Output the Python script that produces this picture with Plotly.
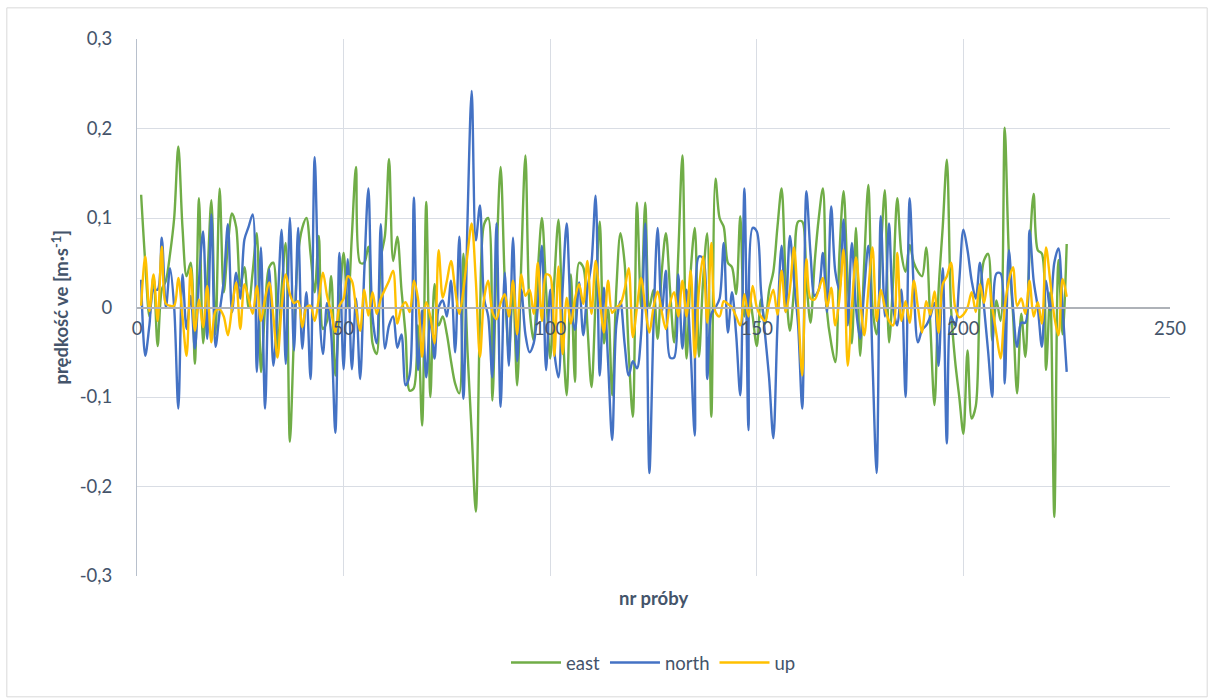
import plotly.graph_objects as go

# Velocity components per sample
east = [
    0.126, 0.05, -0.01, 0.035, -0.043, 0.02, 0.03, 0.06, 0.1, 0.18,
    0.09, 0.035, 0.05, -0.063, 0.122, -0.04, 0.03, 0.12, -0.03, 0.133,
    0.017, 0.07, 0.105, 0.09, 0.024, 0.045, 0.0, 0.04, 0.083,
    -0.072, 0.0, 0.045, 0.05, -0.046, 0.02, 0.072, -0.15, -0.03, 0.06,
    0.089, 0.1, 0.06, 0.017, 0.08, -0.024, -0.015, 0.035, -0.076, 0.0,
    0.061, 0.0, 0.08, 0.157, 0.05, 0.05, 0.068, -0.04,
    -0.052, 0.055, 0.08, 0.166, 0.052, 0.079, 0.02, -0.03, -0.093, -0.09,
    -0.02, -0.132, 0.118, -0.1, 0.026, -0.02, -0.01, -0.03, -0.06, -0.085,
    -0.096, 0.06, -0.05, -0.14, -0.228, -0.01, 0.093, 0.1, -0.104,
    0.05, 0.157, 0.03, -0.05, 0.02, -0.087, 0.05, 0.17, 0.0, -0.037,
    0.04, 0.1, 0.02, -0.057, 0.03, 0.098, -0.02, -0.098, 0.037, -0.083,
    0.05, 0.045, -0.02, -0.089, 0.01, 0.096, -0.04, 0.0,
    -0.098, 0.02, 0.083, 0.05, -0.05, -0.122, 0.117, 0.0, 0.117, 0.0,
    0.02, -0.035, 0.04, 0.083, 0.02, -0.039, 0.06, 0.17, -0.057, 0.04,
    0.089, -0.055, 0.03, 0.083, -0.122, 0.144, 0.1, 0.09, 0.05,
    0.045, 0.015, 0.102, -0.01, 0.02, -0.01, -0.043, 0.009, -0.018, 0.02,
    0.04, 0.09, 0.133, 0.03, -0.026, 0.02, 0.096, 0.096, 0.03, -0.017,
    0.05, 0.1, 0.133, -0.005, -0.04, -0.061, 0.06, 0.13,
    0.03, -0.04, 0.089, -0.054, 0.05, 0.137, 0.0, -0.03, 0.06, 0.131,
    -0.039, 0.03, 0.122, 0.06, 0.04, 0.07, 0.05, 0.04, 0.035, 0.067,
    -0.02, -0.109, 0.02, 0.09, 0.165, 0.0, -0.06, -0.1, -0.141,
    -0.048, -0.124, -0.11, 0.01, 0.053, 0.06, -0.037, 0.008, -0.015, 0.201,
    0.06, -0.007, -0.096, -0.007, -0.055, 0.06, 0.127, 0.064, 0.06, -0.07,
    0.017, -0.234, 0.053, -0.03, 0.071,
]

north = [
    0.031, -0.054, -0.02, 0.02, 0.02, 0.078, 0.0, 0.044, 0.0, -0.113,
    0.037, -0.024, 0.013, -0.046, 0.03, 0.085, -0.035, 0.104, -0.044, -0.005,
    0.03, 0.093, -0.005, 0.039, 0.01, 0.076, 0.09, 0.104, -0.072,
    0.067, -0.113, 0.043, -0.065, 0.0, 0.087, -0.063, 0.1, -0.048, 0.089,
    -0.046, 0.017, -0.08, 0.168, 0.01, -0.052, 0.005, -0.03, -0.14, 0.061,
    -0.069, 0.054, -0.069, 0.01, -0.08, 0.04, 0.133, -0.01,
    -0.04, 0.093, -0.046, -0.02, -0.01, -0.045, -0.03, -0.087, -0.075, 0.123,
    -0.07, -0.003, -0.078, -0.01, -0.057, 0.0, 0.008, -0.01, 0.03, -0.05,
    0.079, -0.102, 0.1, 0.242, 0.075, 0.114, 0.01, -0.01, -0.078,
    0.094, -0.111, 0.039, -0.065, 0.078, -0.06, 0.02, -0.03, -0.05, -0.04,
    0.0, 0.069, -0.07, 0.02, -0.05, -0.078, 0.02, 0.094, 0.0, -0.025,
    0.028, -0.031, 0.02, 0.05, 0.125, -0.076, 0.022, -0.06,
    -0.148, -0.02, 0.007, -0.04, -0.076, -0.06, -0.068, -0.03, 0.094, -0.185,
    -0.02, 0.089, -0.005, 0.041, -0.056, -0.056, 0.037, -0.046, 0.02, -0.05,
    -0.143, 0.057, 0.055, -0.08, -0.007, 0.0, 0.01, 0.072, -0.028,
    0.017, -0.03, -0.098, 0.133, -0.137, 0.089, 0.085, 0.02, -0.03, -0.08,
    -0.146, -0.02, 0.069, -0.005, 0.08, 0.03, -0.02, -0.113, 0.13, 0.06,
    0.013, 0.02, 0.061, -0.005, 0.113, 0.04, 0.02, 0.098,
    -0.02, 0.072, 0.0, -0.035, 0.02, 0.069, -0.06, -0.185, 0.102, -0.01,
    0.094, 0.0, -0.02, 0.02, -0.1, 0.122, 0.02, -0.039, -0.025, -0.02,
    -0.01, 0.005, -0.065, 0.044, -0.152, -0.01, -0.02, 0.03, 0.087,
    0.064, 0.03, 0.01, 0.05, 0.0, -0.05, -0.1, 0.038, 0.038, -0.085,
    0.064, 0.0, -0.044, -0.017, -0.017, 0.086, 0.03, 0.0, -0.044, 0.03,
    -0.003, 0.05, 0.066, 0.0, -0.072,
]

up = [
    0.002, 0.057, -0.004, 0.037, -0.015, 0.068, 0.004, 0.002, 0.002, 0.033,
    -0.01, -0.054, 0.044, -0.026, 0.009, -0.022, 0.024, -0.039, -0.004, -0.002,
    -0.01, -0.031, 0.0, 0.028, -0.024, 0.026, 0.01, -0.007, 0.024,
    -0.015, 0.01, 0.028, -0.01, -0.056, 0.0, 0.037, 0.015, 0.005, 0.007,
    -0.022, 0.0, 0.002, -0.015, 0.01, 0.039, 0.013, -0.005, -0.028, 0.002,
    0.01, 0.035, 0.03, 0.0, -0.026, 0.02, -0.009, 0.017,
    -0.007, 0.01, 0.02, 0.03, 0.041, -0.018, 0.0, 0.006, -0.005, 0.03,
    0.01, -0.055, 0.006, -0.01, -0.04, 0.064, 0.011, 0.03, 0.052, 0.02,
    -0.007, 0.02, 0.06, 0.094, 0.03, -0.055, 0.01, 0.03, -0.005,
    -0.013, 0.005, 0.015, -0.01, 0.03, -0.03, 0.037, 0.013, 0.02, -0.007,
    0.05, -0.015, 0.037, 0.035, -0.054, 0.046, -0.052, 0.011, -0.018, 0.01,
    0.026, 0.004, 0.052, -0.007, 0.052, 0.01, -0.028, 0.03,
    -0.006, 0.0, 0.004, 0.02, 0.044, -0.033, 0.0, 0.033, 0.0, -0.028,
    0.0, 0.018, -0.005, -0.024, 0.005, 0.017, -0.01, 0.03, -0.01, 0.041,
    -0.056, 0.02, 0.057, -0.017, 0.072, -0.005, -0.01, 0.007, 0.004,
    0.0, -0.01, -0.02, 0.015, -0.01, 0.024, 0.0, -0.01, -0.015, 0.005,
    0.02, -0.008, 0.041, -0.005, 0.02, 0.067, 0.0, -0.076, 0.054, 0.01,
    0.009, 0.02, 0.033, 0.0, 0.022, -0.02, 0.01, 0.065,
    -0.065, 0.0, 0.056, 0.01, -0.031, 0.02, 0.067, -0.015, 0.02, 0.0,
    -0.015, -0.02, 0.061, -0.015, 0.007, -0.017, 0.03, 0.0, -0.028, 0.007,
    -0.008, 0.018, -0.028, 0.026, 0.035, 0.05, 0.0, -0.011, -0.008,
    0.0, 0.017, -0.005, 0.026, 0.005, 0.032, 0.0, -0.03, -0.057, 0.0,
    0.03, 0.045, 0.002, 0.01, -0.007, 0.03, -0.01, 0.006, -0.018, 0.067,
    0.03, -0.01, -0.031, 0.032, 0.012,
]

y_ticks = [-0.3, -0.2, -0.1, 0, 0.1, 0.2, 0.3]
y_tick_labels = ["-0,3", "-0,2", "-0,1", "0", "0,1", "0,2", "0,3"]
x_ticks = [0, 50, 100, 150, 200, 250]

series = [
    ("east", east, "#70AD47"),
    ("north", north, "#4472C4"),
    ("up", up, "#FFC000"),
]

FONT = "Lato, 'Open Sans', sans-serif"
TXT = "#44546A"
GRID = "#d9dde4"

fig = go.Figure()
for name, vals, color in series:
    fig.add_trace(go.Scatter(
        x=list(range(1, len(vals) + 1)),
        y=vals,
        name=name,
        mode="lines",
        line=dict(color=color, width=2.4, shape="spline", smoothing=0.9),
    ))

fig.update_layout(
    width=1213,
    height=699,
    margin=dict(l=137, r=43, t=39, b=123),
    paper_bgcolor="white",
    plot_bgcolor="white",
    font=dict(family=FONT, size=18.5, color=TXT),
    xaxis=dict(
        range=[0, 250],
        tickvals=x_ticks,
        ticktext=[str(v) for v in x_ticks],
        showgrid=True,
        gridcolor=GRID,
        gridwidth=1,
        zeroline=False,
        showline=True,
        linecolor="#aeb2b8",
        linewidth=1.5,
        anchor="free",
        position=0.5,
        ticks="",
        ticklabelstandoff=5,
        tickfont=dict(size=18.5, color=TXT),
    ),
    yaxis=dict(
        range=[-0.3, 0.3],
        tickvals=y_ticks,
        ticktext=y_tick_labels,
        showgrid=True,
        gridcolor=GRID,
        gridwidth=1,
        zeroline=False,
        showline=True,
        linecolor="#b8c0cc",
        linewidth=1,
        ticks="",
        ticklabelstandoff=20,
        tickfont=dict(size=18.5, color=TXT),
    ),
    legend=dict(
        orientation="h",
        x=0.5,
        xanchor="center",
        y=-0.162,
        yanchor="middle",
        font=dict(size=18.5, color=TXT),
        itemwidth=50,
        traceorder="normal",
    ),
    annotations=[
        dict(text="<b>nr próby</b>", x=0.5, y=-0.041, xref="paper", yref="paper",
             xanchor="center", yanchor="middle", showarrow=False,
             font=dict(size=18.5, color=TXT)),
        dict(text="<b>prędkość ve [m·s<sup>-1</sup>]</b>", x=-0.0745, y=0.5,
             xref="paper", yref="paper", xanchor="center", yanchor="middle",
             textangle=-90, showarrow=False, font=dict(size=18.5, color=TXT)),
    ],
    shapes=[
        dict(type="rect", xref="paper", yref="paper",
             x0=-0.126, x1=1.036, y0=-0.225, y1=1.058,
             line=dict(color="#d9d9d9", width=1), layer="below"),
    ],
)

fig.write_html("out.html")
